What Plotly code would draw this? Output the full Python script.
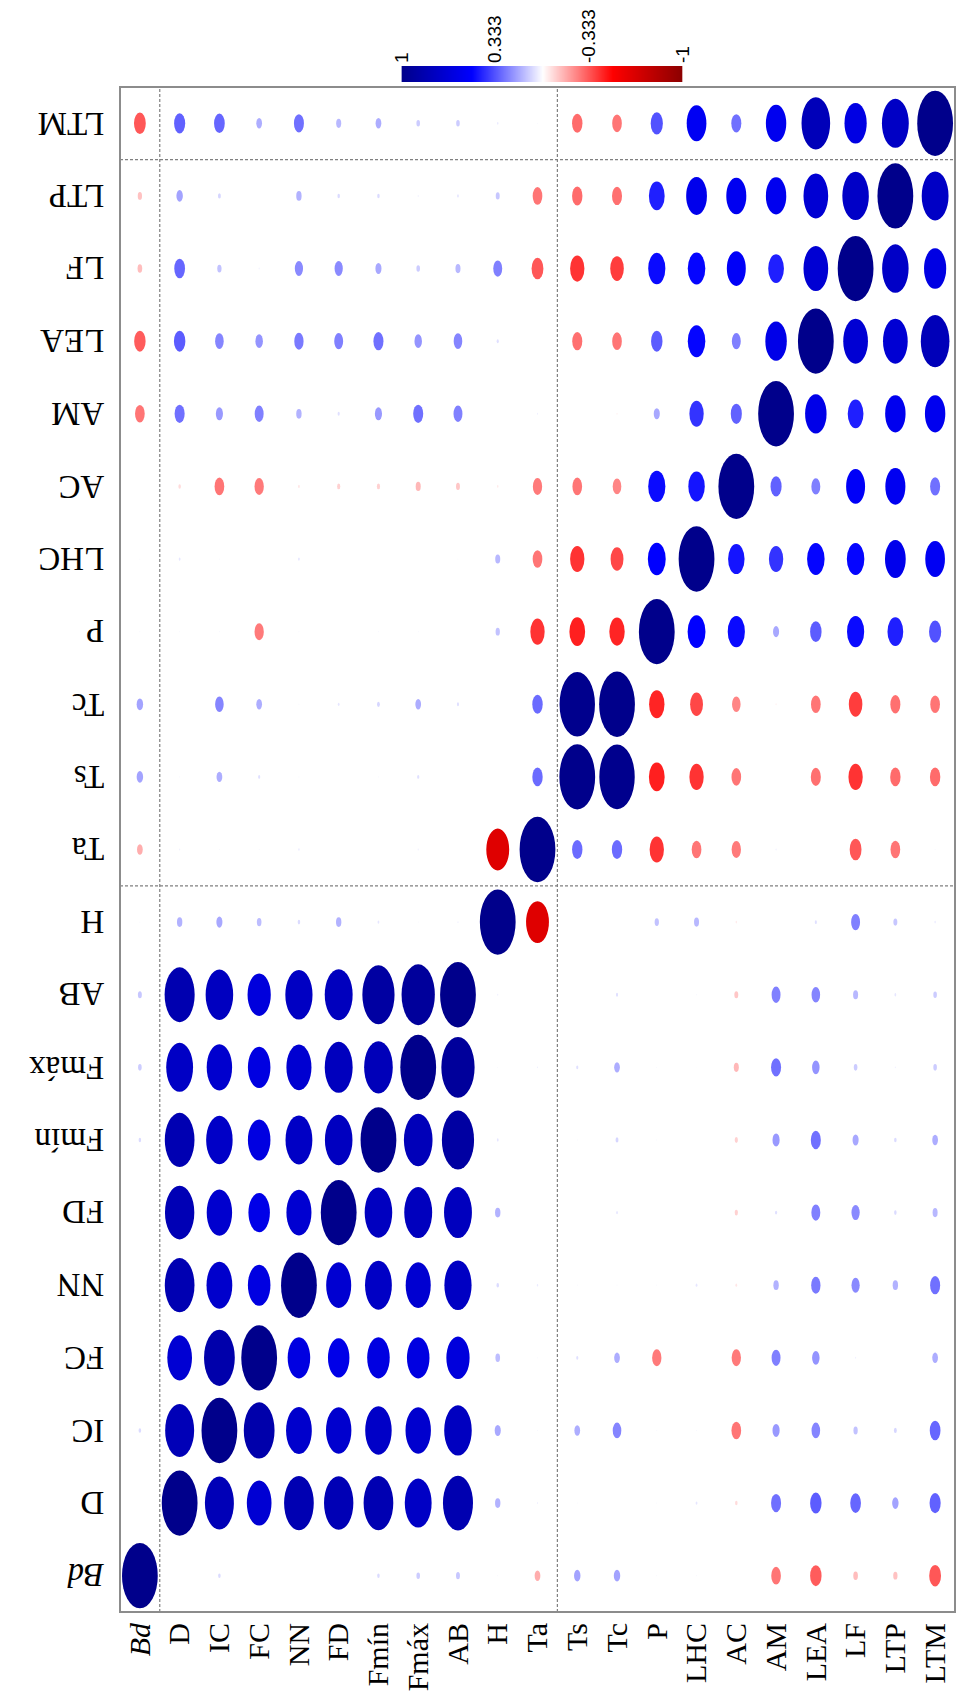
import plotly.graph_objects as go

variables = ["Bd", "D", "IC", "FC", "NN", "FD", "Fmín", "Fmáx", "AB", "H", "Ta",
             "Ts", "Tc", "P", "LHC", "AC", "AM", "LEA", "LF", "LTP", "LTM"]
tick_labels = ["<i>Bd</i>"] + variables[1:]

# Lower-triangle correlations: each list holds corr with the preceding variables
r_D = [0.00]
r_IC = [0.07, 0.81]
r_FC = [0.00, 0.69, 0.86]
r_NN = [0.00, 0.83, 0.72, 0.63]
r_FD = [0.00, 0.82, 0.71, 0.60, 0.70]
r_Fmin = [0.07, 0.83, 0.74, 0.63, 0.75, 0.77]
r_Fmax = [0.10, 0.75, 0.71, 0.63, 0.70, 0.78, 0.80]
r_AB = [0.11, 0.84, 0.77, 0.65, 0.76, 0.78, 0.90, 0.93]
r_H = [0.02, 0.15, 0.17, 0.13, 0.07, 0.15, 0.05, 0.02, 0.03]
r_Ta = [-0.16, 0.03, 0.02, 0.02, 0.04, 0.00, 0.00, 0.03, 0.00, -0.64]
r_Ts = [0.18, 0.02, 0.16, 0.06, 0.02, 0.00, 0.02, 0.06, 0.01, 0.00, 0.29]
r_Tc = [0.18, 0.00, 0.24, 0.16, 0.02, 0.05, 0.08, 0.16, 0.06, 0.00, 0.29, 0.99]
r_P = [0.02, 0.02, 0.02, -0.26, 0.02, 0.00, 0.02, 0.02, 0.01, 0.12, -0.40, -0.44, -0.43]
r_LHC = [0.02, 0.05, 0.02, 0.00, 0.05, 0.00, 0.00, 0.01, 0.02, 0.14, -0.27, -0.40, -0.36,
         0.50]
r_AC = [0.00, -0.07, -0.27, -0.26, -0.05, -0.09, -0.09, -0.14, -0.11, -0.04, -0.26, -0.27,
        -0.24, 0.48, 0.46]
r_AM = [-0.27, 0.28, 0.20, 0.25, 0.15, 0.06, 0.20, 0.28, 0.25, 0.01, 0.03, 0.00, -0.03,
        0.17, 0.40, 0.31]
r_LEA = [-0.32, 0.32, 0.24, 0.21, 0.26, 0.25, 0.28, 0.21, 0.24, 0.06, 0.01, -0.28, -0.27,
         0.32, 0.49, 0.25, 0.60]
r_LF = [-0.13, 0.30, 0.12, 0.03, 0.23, 0.23, 0.17, 0.10, 0.14, 0.25, -0.33, -0.40, -0.38,
        0.48, 0.49, 0.53, 0.44, 0.69]
r_LTP = [-0.12, 0.18, 0.08, 0.01, 0.15, 0.07, 0.07, 0.03, 0.05, 0.11, -0.27, -0.29, -0.28,
         0.44, 0.58, 0.56, 0.57, 0.69, 0.74]
r_LTM = [-0.33, 0.31, 0.30, 0.16, 0.28, 0.14, 0.16, 0.10, 0.10, 0.04, 0.02, -0.29, -0.27,
         0.34, 0.55, 0.28, 0.57, 0.80, 0.62, 0.75]

lower = [[], r_D, r_IC, r_FC, r_NN, r_FD, r_Fmin, r_Fmax, r_AB, r_H, r_Ta, r_Ts, r_Tc,
         r_P, r_LHC, r_AC, r_AM, r_LEA, r_LF, r_LTP, r_LTM]

# colour legend: anchor values of the palette and its tick labels
legend_values = [1, 0.5, 0, -0.5, -1]
legend_ticks = [1, 0.333, -0.333, -1]
legend_ticktext = ["1", "0.333", "-0.333", "-1"]

n = len(variables)
corr = [[1.0] * n for _ in range(n)]
for i in range(n):
    for j in range(i):
        corr[i][j] = lower[i][j]
        corr[j][i] = lower[i][j]

# palette: darkred - red - white - blue - darkblue
stops = [(-1.0, (139, 0, 0)), (-0.5, (255, 0, 0)), (0.0, (255, 255, 255)),
         (0.5, (0, 0, 255)), (1.0, (0, 0, 139))]
cscale = [[(v + 1) / 2, "rgb(%d,%d,%d)" % c] for v, c in stops]


def col(r):
    for (a, ca), (b, cb) in zip(stops[:-1], stops[1:]):
        if a <= r <= b:
            t = (r - a) / (b - a)
            c = [round(ca[k] + t * (cb[k] - ca[k])) for k in range(3)]
            return "rgb(%d,%d,%d)" % tuple(c)
    return "rgb(0,0,139)"


shapes = []
# dashed group separators
sep_line = dict(color="#808080", width=1.2, dash="3px,2px")
for xv in [0.5, 10.5]:
    shapes.append(dict(type="line", xref="x", yref="y domain", x0=xv, x1=xv, y0=0, y1=1,
                       line=sep_line, layer="below"))
for yv in [9.5, 19.5]:
    shapes.append(dict(type="line", xref="x domain", yref="y", x0=0, x1=1, y0=yv, y1=yv,
                       line=sep_line, layer="below"))

for i in range(n):          # y position (variable index)
    for j in range(n):      # x position
        r = corr[i][j]
        h = 0.45 * abs(r)
        if h < 0.004:
            continue
        shapes.append(dict(type="circle", xref="x", yref="y",
                           x0=j - h, x1=j + h, y0=i - h, y1=i + h,
                           fillcolor=col(r), line=dict(width=0)))

shapes.append(dict(type="rect", xref="x domain", yref="y domain", x0=0, x1=1, y0=0, y1=1,
                   line=dict(color="#8c8c8c", width=2)))

# row labels, drawn upside-down on the left
annotations = []
for i, lab in enumerate(tick_labels):
    annotations.append(dict(text=lab, xref="x domain", yref="y", x=-0.016, y=i,
                            xanchor="right", yanchor="middle", textangle=180,
                            showarrow=False,
                            font=dict(family="Liberation Serif", size=33, color="black")))

fig = go.Figure()
# colour legend drawn as a smooth heatmap on its own axes
fig.add_trace(go.Heatmap(
    x=legend_values, y=[0], z=[legend_values], zmin=-1, zmax=1, colorscale=cscale,
    zsmooth="best", showscale=False, hoverinfo="skip", xaxis="x2", yaxis="y2"))

fig.update_layout(
    width=968, height=1701, autosize=False,
    margin=dict(l=120, r=3, t=5, b=89),
    paper_bgcolor="white", plot_bgcolor="white",
    shapes=shapes, annotations=annotations,
    xaxis=dict(domain=[0, 1], range=[-0.5, 20.5], tickmode="array",
               tickvals=list(range(n)), ticktext=tick_labels, tickangle=-90,
               showgrid=False, zeroline=False, showline=False, ticks="",
               ticklabelstandoff=4,
               tickfont=dict(family="Liberation Serif", size=30, color="black")),
    yaxis=dict(domain=[0, 0.94897], range=[-0.5, 20.5], showticklabels=False,
               showgrid=False, zeroline=False, showline=False, ticks=""),
    xaxis2=dict(domain=[0.337, 0.674], anchor="y2", side="top", range=[1, -1],
                tickmode="array", tickvals=legend_ticks, ticktext=legend_ticktext,
                tickangle=-90, ticks="", showgrid=False, zeroline=False, showline=False,
                ticklabelstandoff=2,
                tickfont=dict(family="Liberation Sans", size=19, color="black")),
    yaxis2=dict(domain=[0.95208, 0.96204], anchor="x2", range=[-0.5, 0.5],
                visible=False),
)

fig.write_html("out.html")
